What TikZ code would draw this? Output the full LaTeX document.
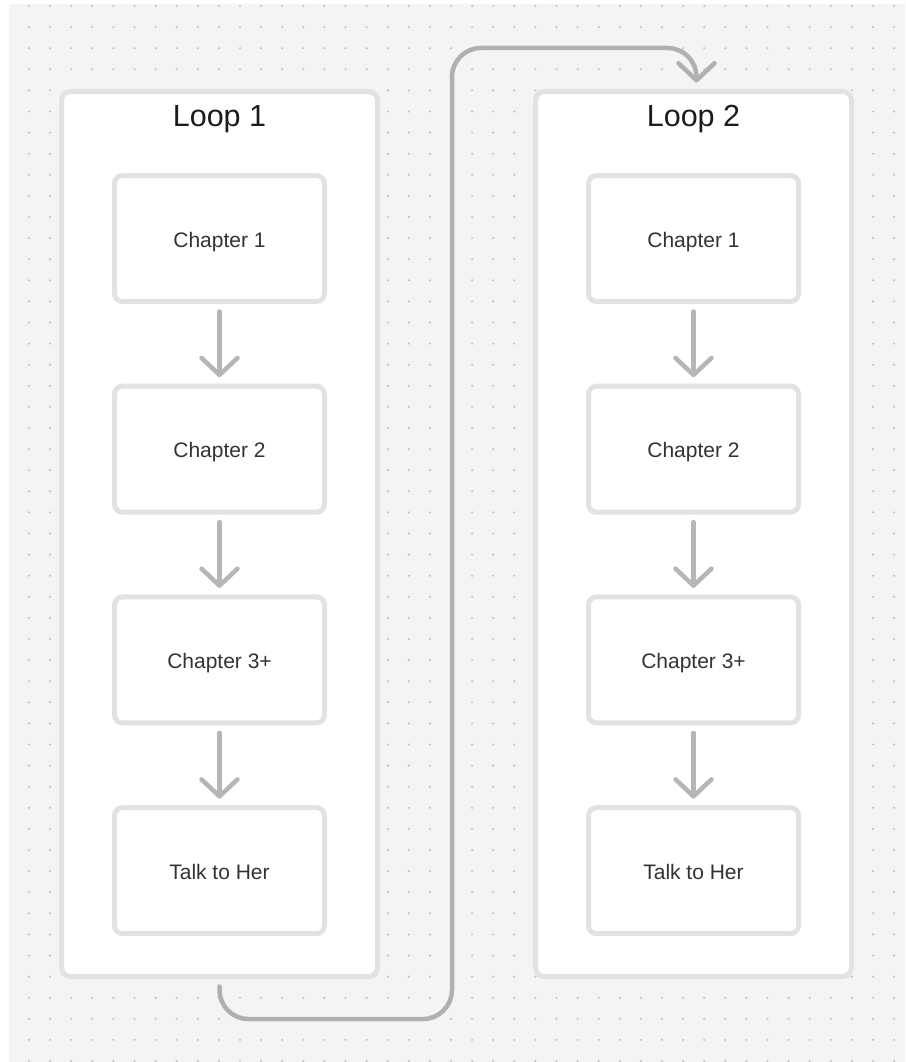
\documentclass[tikz,border=0pt]{standalone}
\usepackage{fontspec}
\setmainfont{Liberation Sans}
\usetikzlibrary{arrows.meta}

\definecolor{canvas}{HTML}{F4F4F4}
\definecolor{griddot}{HTML}{C2C2C2}
\definecolor{frame}{HTML}{E2E2E2}
\definecolor{flow}{HTML}{B6B6B6}
\definecolor{jump}{HTML}{B0B0B0}
\definecolor{ink}{HTML}{333333}
\definecolor{heading}{HTML}{1C1C1C}

\begin{document}
\begin{tikzpicture}[x=1pt,y=-1pt,
  loopbox/.style={draw=frame, line width=5pt, fill=white, rounded corners=9pt,
    minimum width=316pt, minimum height=885pt, inner sep=0pt, outer sep=0pt},
  chapbox/.style={draw=frame, line width=5pt, fill=white, rounded corners=8pt,
    minimum width=210pt, minimum height=126pt, inner sep=0pt, outer sep=0pt,
    text height=17pt, text depth=0pt,
    font=\fontsize{21}{25}\selectfont, text=ink},
  looptitle/.style={font=\fontsize{30.5}{36}\selectfont, text=heading,
    inner sep=0pt, anchor=base},
  flowarrow/.style={draw=flow, line width=4.5pt, line cap=round,
    -{Straight Barb[length=17pt,width=36pt,round]},
    shorten <=10pt, shorten >=9pt},
  jumparrow/.style={draw=jump, line width=4.5pt, line cap=round,
    rounded corners=29pt, -{Straight Barb[length=17pt,width=36pt,round]}}
]
% canvas with its dot grid
\useasboundingbox (0,0) rectangle (905,1062);
\fill[white] (0,0) rectangle (905,1062);
\fill[canvas] (9,4) rectangle (905,1062);
\foreach \i in {0,...,41}{
  \foreach \j in {0,...,50}{
    \fill[griddot] (29+21.1*\i, 6+21.1*\j) circle (1.2pt);
  }
}

% the two loops
\foreach \name/\cx/\lab in {l1/219.5/1, l2/693.5/2}{
  \node[loopbox] (\name) at (\cx,534) {};
  \node[looptitle] (\name title) at (\cx,127) {Loop \lab};
  \node[chapbox] (\name c1) at (\cx,238.5) {Chapter 1};
  \node[chapbox] (\name c2) at (\cx,449.2) {Chapter 2};
  \node[chapbox] (\name c3) at (\cx,659.9) {Chapter 3+};
  \node[chapbox] (\name c4) at (\cx,870.6) {Talk to Her};
  \draw[flowarrow] (\name c1.south) -- (\name c2.north);
  \draw[flowarrow] (\name c2.south) -- (\name c3.north);
  \draw[flowarrow] (\name c3.south) -- (\name c4.north);
}

% jump from the end of loop 1 to the start of loop 2
\coordinate (dip) at (452,1019);
\coordinate (crest) at (452,48);
\draw[jumparrow] ([yshift=-10pt]l1.south) |- (dip) -- (crest)
  -| ([xshift=3pt,yshift=9pt]l2.north);
\end{tikzpicture}
\end{document}
